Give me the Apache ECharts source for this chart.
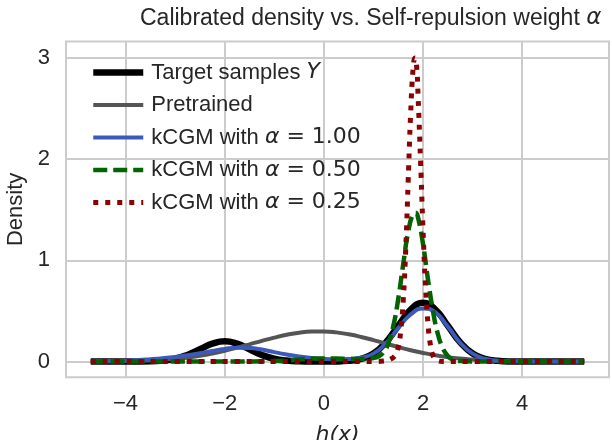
<!DOCTYPE html>
<html>
<head>
<meta charset="utf-8">
<script src="https://cdn.jsdelivr.net/npm/echarts@6/dist/echarts.min.js"></script>
<style>
  html, body { margin: 0; padding: 0; background: #fff; }
  #chart { width: 612px; height: 440px; }
</style>
</head>
<body>
<div id="chart"></div>
<script>
// shared x grid for the broad curves
const xBroad = [-4.7, -4.25, -3.75, -3.5, -3.25, -3, -2.75, -2.5, -2.25, -2, -1.75, -1.5, -1.25, -1, -0.75, -0.5, -0.25, 0,
  0.25, 0.5, 0.75, 1, 1.25, 1.5, 1.75, 2, 2.25, 2.5, 2.75, 3, 3.25, 3.5, 3.75, 4.25, 4.75, 5.25];

const targetY = [0, 0, 0.001, 0.002, 0.009, 0.027, 0.065, 0.121, 0.176, 0.2, 0.176, 0.121, 0.065, 0.027, 0.009, 0.002, 0, 0,
  0.001, 0.0065, 0.026, 0.079, 0.189, 0.353, 0.514, 0.58, 0.514, 0.353, 0.189, 0.079, 0.026, 0.0065, 0.001, 0, 0, 0];

const pretrainedY = [0.0007, 0.0022, 0.0066, 0.011, 0.0175, 0.027, 0.04, 0.0575, 0.0795, 0.106, 0.137, 0.17, 0.204, 0.236, 0.264, 0.285, 0.296, 0.297,
  0.288, 0.269, 0.243, 0.211, 0.177, 0.143, 0.112, 0.085, 0.0615, 0.043, 0.029, 0.019, 0.012, 0.0074, 0.0043, 0.0013, 0.0003, 0.0001];

const alpha100Y = [0.002, 0.005, 0.014, 0.022, 0.032, 0.045, 0.062, 0.082, 0.104, 0.124, 0.137, 0.134, 0.118, 0.093, 0.07, 0.05, 0.035, 0.025,
  0.021, 0.024, 0.038, 0.078, 0.18, 0.33, 0.465, 0.525, 0.485, 0.345, 0.185, 0.078, 0.027, 0.008, 0.002, 0, 0, 0];

// alpha = 0.50 (narrow peak, finer grid)
const xAlpha050 = [-4.7, -3, -1.5, -1, -0.75, -0.5, -0.25, 0, 0.25, 0.5, 0.75, 1, 1.1, 1.2, 1.3, 1.4, 1.5, 1.6, 1.7, 1.8, 1.85,
  1.9, 2, 2.1, 2.2, 2.3, 2.4, 2.5, 2.6, 2.75, 3, 4, 5.25];
const alpha050Y = [0, 0, 0.001, 0.004, 0.01, 0.02, 0.028, 0.031, 0.03, 0.027, 0.025, 0.035, 0.05, 0.09, 0.18, 0.35, 0.62, 0.96, 1.28, 1.46, 1.47,
  1.42, 1.16, 0.81, 0.5, 0.27, 0.13, 0.055, 0.02, 0.004, 0, 0, 0];

// alpha = 0.25 (very sharp peak)
const xAlpha025 = [-4.7, 0, 1, 1.2, 1.3, 1.35, 1.4, 1.45, 1.5, 1.55, 1.6, 1.65, 1.7, 1.75, 1.8, 1.835, 1.87, 1.9, 1.95, 2,
  2.05, 2.1, 2.15, 2.2, 2.25, 2.3, 2.4, 3, 5.25];
const alpha025Y = [0, 0, 0, 0.005, 0.015, 0.025, 0.04, 0.07, 0.14, 0.3, 0.6, 1.1, 1.78, 2.45, 2.9, 3.0, 2.92, 2.62, 1.98, 1.3,
  0.74, 0.37, 0.16, 0.06, 0.02, 0.006, 0, 0, 0];

const xTicks = [-4, -2, 0, 2, 4];
const yTicks = [0, 1, 2, 3];

const seriesNames = ['Target samples Y', 'Pretrained', 'kCGM with α = 1.00', 'kCGM with α = 0.50', 'kCGM with α = 0.25'];

const zip = (xs, ys) => xs.map((x, i) => [x, ys[i]]);

const textColor = '#262626';
const baseFont = 'Liberation Sans, Arial, sans-serif';
const mathFont = 'DejaVu Sans';

const chart = echarts.init(document.getElementById('chart'), null, { renderer: 'canvas' });

// legend label: plain text + italic math bits
const legendLabel = (name) => {
  if (name === 'Target samples Y') return 'Target samples {m|Y}';
  if (name.indexOf('α') >= 0) {
    const val = name.split('= ')[1];
    return 'kCGM with {m|α}{n| = ' + val + '}';
  }
  return name;
};

const mkSeries = (name, data, color, width, type) => ({
  name,
  type: 'line',
  data,
  symbol: 'none',
  smooth: 0.5,
  clip: true,
  lineStyle: { color, width, type, cap: 'butt', join: 'round' },
  itemStyle: { color },
  emphasis: { disabled: true },
  animation: false,
});

chart.setOption({
  animation: false,
  backgroundColor: '#ffffff',
  title: {
    text: 'Calibrated density vs. Self-repulsion weight {a|α}',
    left: 135,
    top: 2,
    textStyle: {
      fontFamily: baseFont,
      fontSize: 23,
      fontWeight: 'normal',
      color: textColor,
      rich: {
        a: { fontFamily: mathFont, fontStyle: 'italic', fontSize: 23, color: textColor },
      },
    },
  },
  grid: {
    left: 66,
    right: 3,
    top: 41.5,
    bottom: 62.7,
    outerBoundsMode: 'none',
    show: true,
    borderColor: '#cccccc',
    borderWidth: 2,
  },
  legend: {
    orient: 'vertical',
    left: 85,
    top: 51.5,
    itemWidth: 50,
    itemHeight: 14,
    itemGap: 0.5,
    lineStyle: { width: 'inherit' },
    itemStyle: { opacity: 0 },
    data: seriesNames,
    formatter: legendLabel,
    textStyle: {
      fontFamily: baseFont,
      fontSize: 22,
      color: textColor,
      lineHeight: 32,
      padding: [0, 0, 0, 3],
      rich: {
        m: { fontFamily: mathFont, fontStyle: 'italic', fontSize: 22, color: textColor, lineHeight: 32 },
        n: { fontFamily: mathFont, fontSize: 22, color: textColor, lineHeight: 32 },
      },
    },
  },
  xAxis: {
    type: 'value',
    min: -5.2,
    max: 5.75,
    name: 'h(x)',
    nameLocation: 'middle',
    nameGap: 47,
    nameTextStyle: { fontFamily: mathFont, fontStyle: 'italic', fontSize: 22, color: textColor },
    axisLine: { show: false, onZero: false },
    axisTick: { show: false, customValues: xTicks },
    axisLabel: {
      customValues: xTicks,
      margin: 16,
      fontFamily: baseFont,
      fontSize: 22,
      color: textColor,
      formatter: (v) => (v < 0 ? '\u2212' + Math.abs(v) : String(v)),
    },
    splitLine: { show: true, lineStyle: { color: '#cccccc', width: 2 } },
  },
  yAxis: {
    type: 'value',
    min: -0.156,
    max: 3.163,
    name: 'Density',
    nameLocation: 'middle',
    nameGap: 36,
    nameRotate: 90,
    nameTextStyle: { fontFamily: baseFont, fontSize: 22, color: textColor },
    axisLine: { show: false, onZero: false },
    axisTick: { show: false, customValues: yTicks },
    axisLabel: {
      customValues: yTicks,
      margin: 16,
      fontFamily: baseFont,
      fontSize: 22,
      color: textColor,
    },
    splitLine: { show: true, lineStyle: { color: '#cccccc', width: 2 } },
  },
  series: [
    mkSeries(seriesNames[0], zip(xBroad, targetY), '#000000', 6.5, 'solid'),
    mkSeries(seriesNames[1], zip(xBroad, pretrainedY), '#555555', 4, 'solid'),
    mkSeries(seriesNames[2], zip(xBroad, alpha100Y), '#3c5ab9', 4, 'solid'),
    mkSeries(seriesNames[3], zip(xAlpha050, alpha050Y), '#006400', 4.5, [14, 6]),
    mkSeries(seriesNames[4], zip(xAlpha025, alpha025Y), '#8b0000', 5, [5, 7]),
  ],
});
</script>
</body>
</html>
